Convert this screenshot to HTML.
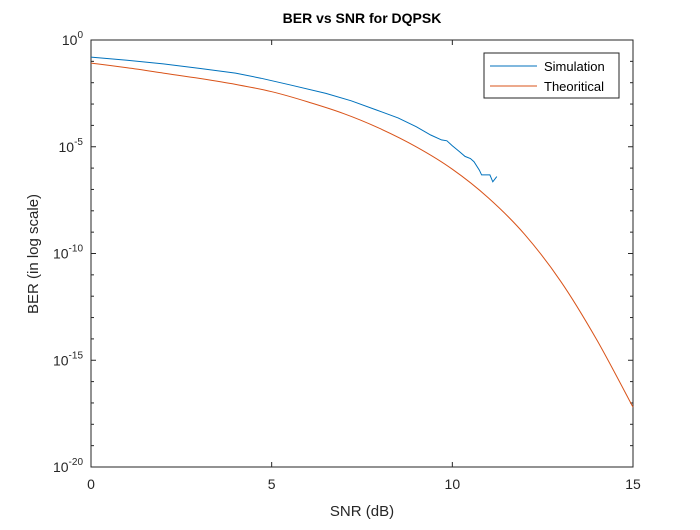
<!DOCTYPE html>
<html><head><meta charset="utf-8"><style>
body{margin:0;background:#fff;font-family:"Liberation Sans",sans-serif}
</style></head><body>
<svg width="700" height="525" viewBox="0 0 700 525" xmlns="http://www.w3.org/2000/svg">
<rect x="0" y="0" width="700" height="525" fill="#fff"/>
<rect x="91" y="40" width="542" height="427" fill="#fff" stroke="#262626" stroke-width="1"/>
<g id="ticks"></g>
<path id="theo" fill="none" stroke="#D95319" stroke-width="1"/>
<path id="sim" fill="none" stroke="#0072BD" stroke-width="1"/>
<text x="362" y="23" text-anchor="middle" font-size="14" font-weight="bold" fill="#000">BER vs SNR for DQPSK</text>
<text x="362" y="516" text-anchor="middle" font-size="15" fill="#262626">SNR (dB)</text>
<text transform="translate(38,254) rotate(-90)" text-anchor="middle" font-size="15" fill="#262626">BER (in log scale)</text>
<g>
<rect x="484" y="53" width="135" height="45" fill="#fff" stroke="#262626" stroke-width="1"/>
<line x1="490" y1="66" x2="537" y2="66" stroke="#0072BD"/>
<text x="544" y="71" font-size="13" fill="#000">Simulation</text>
<line x1="490" y1="86" x2="537" y2="86" stroke="#D95319"/>
<text x="544" y="91" font-size="13" fill="#000">Theoritical</text>
</g>
</svg>
<script>
const theoSnr=[0,1,2,3,4,5,6,7,8,9,10,11,12,13,14,15];
const theoLogBer=[-1.08,-1.3,-1.55,-1.8,-2.08,-2.42,-2.9,-3.45,-4.15,-5.0,-6.05,-7.4,-9.1,-11.3,-14.05,-17.2];
const simSnr=[0,1,2,3,4,4.7,5.5,6.5,7.2,7.9,8.5,9.0,9.4,9.7,9.85,10.0,10.2,10.35,10.5,10.6,10.75,10.81,11.04,11.12,11.23];
const simLogBer=[-0.8,-0.95,-1.12,-1.33,-1.55,-1.79,-2.1,-2.5,-2.85,-3.28,-3.65,-4.06,-4.45,-4.68,-4.72,-4.95,-5.23,-5.45,-5.55,-5.7,-6.1,-6.32,-6.32,-6.64,-6.4];
const xTicks=[0,5,10,15];
const yTicks=[0,-5,-10,-15,-20];
const X0=91,X1=633,Y0=40,Y1=467;
const xs=v=>X0+(v-0)/(15-0)*(X1-X0);
const ys=v=>Y0+(0-v)/20*(Y1-Y0);
const ns="http://www.w3.org/2000/svg";
function mk(t,a){const e=document.createElementNS(ns,t);for(const k in a)e.setAttribute(k,a[k]);return e;}
const path=(xa,ya)=>xa.map((x,i)=>(i?'L':'M')+xs(x).toFixed(1)+' '+ys(ya[i]).toFixed(1)).join(' ');
function smooth(xa,ya){
  const p=xa.map((x,i)=>[xs(x),ys(ya[i])]);
  let d='M'+p[0][0].toFixed(1)+' '+p[0][1].toFixed(1);
  for(let i=0;i<p.length-1;i++){
    const a=p[i-1]||p[i],b=p[i],c=p[i+1],e=p[i+2]||c;
    const c1=[b[0]+(c[0]-a[0])/6,b[1]+(c[1]-a[1])/6],c2=[c[0]-(e[0]-b[0])/6,c[1]-(e[1]-b[1])/6];
    d+=' C'+c1.map(v=>v.toFixed(1)).join(' ')+' '+c2.map(v=>v.toFixed(1)).join(' ')+' '+c[0].toFixed(1)+' '+c[1].toFixed(1);
  }
  return d;
}
document.getElementById('theo').setAttribute('d',smooth(theoSnr,theoLogBer));
document.getElementById('sim').setAttribute('d',path(simSnr,simLogBer));
const g=document.getElementById('ticks');
xTicks.forEach(v=>{
  const x=xs(v);
  const t1=mk('line',{x1:x,y1:Y1,x2:x,y2:Y1-5,stroke:'#262626'});
  
  
  g.appendChild(t1);
  const t2=mk('line',{x1:x,y1:Y0,x2:x,y2:Y0+5,stroke:'#262626'});
  
  
  g.appendChild(t2);
  const l=mk('text',{x:x,y:Y1+22,'text-anchor':'middle','font-size':14,fill:'#262626'});
  l.textContent=v;
  
  
  g.appendChild(l);
});
for(let d=-19;d<0;d++){
  if(d%5===0)continue;
  const y=ys(d);
  const m1=mk('line',{x1:X0,y1:y,x2:X0+3,y2:y,stroke:'#262626'});
  
  
  g.appendChild(m1);
  const m2=mk('line',{x1:X1,y1:y,x2:X1-3,y2:y,stroke:'#262626'});
  
  
  g.appendChild(m2);
}
yTicks.forEach(v=>{
  const y=ys(v);
  const t1=mk('line',{x1:X0,y1:y,x2:X0+5,y2:y,stroke:'#262626'});
  
  
  g.appendChild(t1);
  const t2=mk('line',{x1:X1,y1:y,x2:X1-5,y2:y,stroke:'#262626'});
  
  
  g.appendChild(t2);
  const l=mk('text',{x:X0-8,y:y+5,'text-anchor':'end','font-size':14,fill:'#262626'});
  l.innerHTML='10<tspan dy="-7" font-size="10">'+v+'</tspan>';
  
  
  g.appendChild(l);
});
</script>
</body></html>
